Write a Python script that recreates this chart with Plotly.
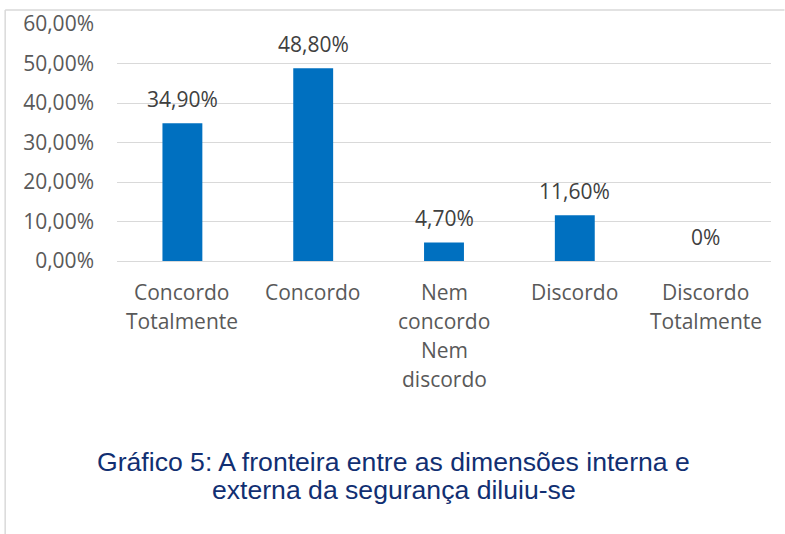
import plotly.graph_objects as go

categories = ["Concordo Totalmente", "Concordo", "Nem concordo Nem discordo", "Discordo", "Discordo Totalmente"]
category_lines = [["Concordo", "Totalmente"], ["Concordo"], ["Nem", "concordo", "Nem", "discordo"], ["Discordo"], ["Discordo", "Totalmente"]]
values = [34.90, 48.80, 4.70, 11.60, 0.0]
value_labels = ["34,90%", "48,80%", "4,70%", "11,60%", "0%"]
caption_lines = ["Gráfico 5: A fronteira entre as dimensões interna e", "externa da segurança diluiu-se"]

W, H = 785, 534
L, R, T, B = 116.5, 13.5, 24, 273
pw, ph = W - L - R, H - T - B

def px(x):
    return (x - L) / pw

def py(y):
    return (H - B - y) / ph

fracs = [v / 100 for v in values]

fig = go.Figure()
fig.add_trace(go.Bar(
    x=categories, y=fracs, marker_color="#0070C0", width=0.305,
    marker_line_width=0, hoverinfo="skip",
))

annotations = []
for c, f, lab in zip(categories, fracs, value_labels):
    annotations.append(dict(x=c, y=f, xref="x", yref="y", text=lab, showarrow=False,
                            yanchor="middle", yshift=24,
                            font=dict(family="Open Sans", size=21, color="#404040")))
for c, lines in zip(categories, category_lines):
    for i, ln in enumerate(lines):
        annotations.append(dict(x=c, y=0, xref="x", yref="y", text=ln, showarrow=False,
                                yanchor="middle", yshift=-(31 + 29 * i),
                                font=dict(family="Open Sans", size=21, color="#595959")))
for i, ln in enumerate(caption_lines):
    annotations.append(dict(x=px(393.5), y=py(462 + 28 * i), xref="paper", yref="paper", text=ln,
                            showarrow=False, xanchor="center", yanchor="middle",
                            font=dict(family="Liberation Sans", size=26.6, color="#112F72")))

shapes = [
    dict(type="line", xref="paper", yref="paper", x0=px(4.5), x1=px(4.5), y0=py(10), y1=py(534),
         line=dict(color="#D9D9D9", width=1.5)),
    dict(type="line", xref="paper", yref="paper", x0=px(4.5), x1=px(785), y0=py(10), y1=py(10),
         line=dict(color="#D9D9D9", width=1.5)),
]

fig.update_layout(
    width=W, height=H, margin=dict(l=L, r=R, t=T, b=B, autoexpand=False),
    paper_bgcolor="white", plot_bgcolor="white",
    separators=",.",
    showlegend=False,
    annotations=annotations, shapes=shapes,
    xaxis=dict(showticklabels=False, showgrid=False, zeroline=False, showline=False, ticks=""),
    yaxis=dict(range=[0, 0.6], dtick=0.1, tickformat=".2%", showgrid=True, gridcolor="#D9D9D9",
               gridwidth=1, zeroline=True, zerolinecolor="#D9D9D9", zerolinewidth=1,
               showline=False, ticks="", ticklabelstandoff=22,
               tickfont=dict(family="Open Sans", size=21, color="#595959")),
)

fig.write_html("out.html", config={"displayModeBar": False},
               post_script="document.body.style.margin='0';document.body.style.padding='0';")
